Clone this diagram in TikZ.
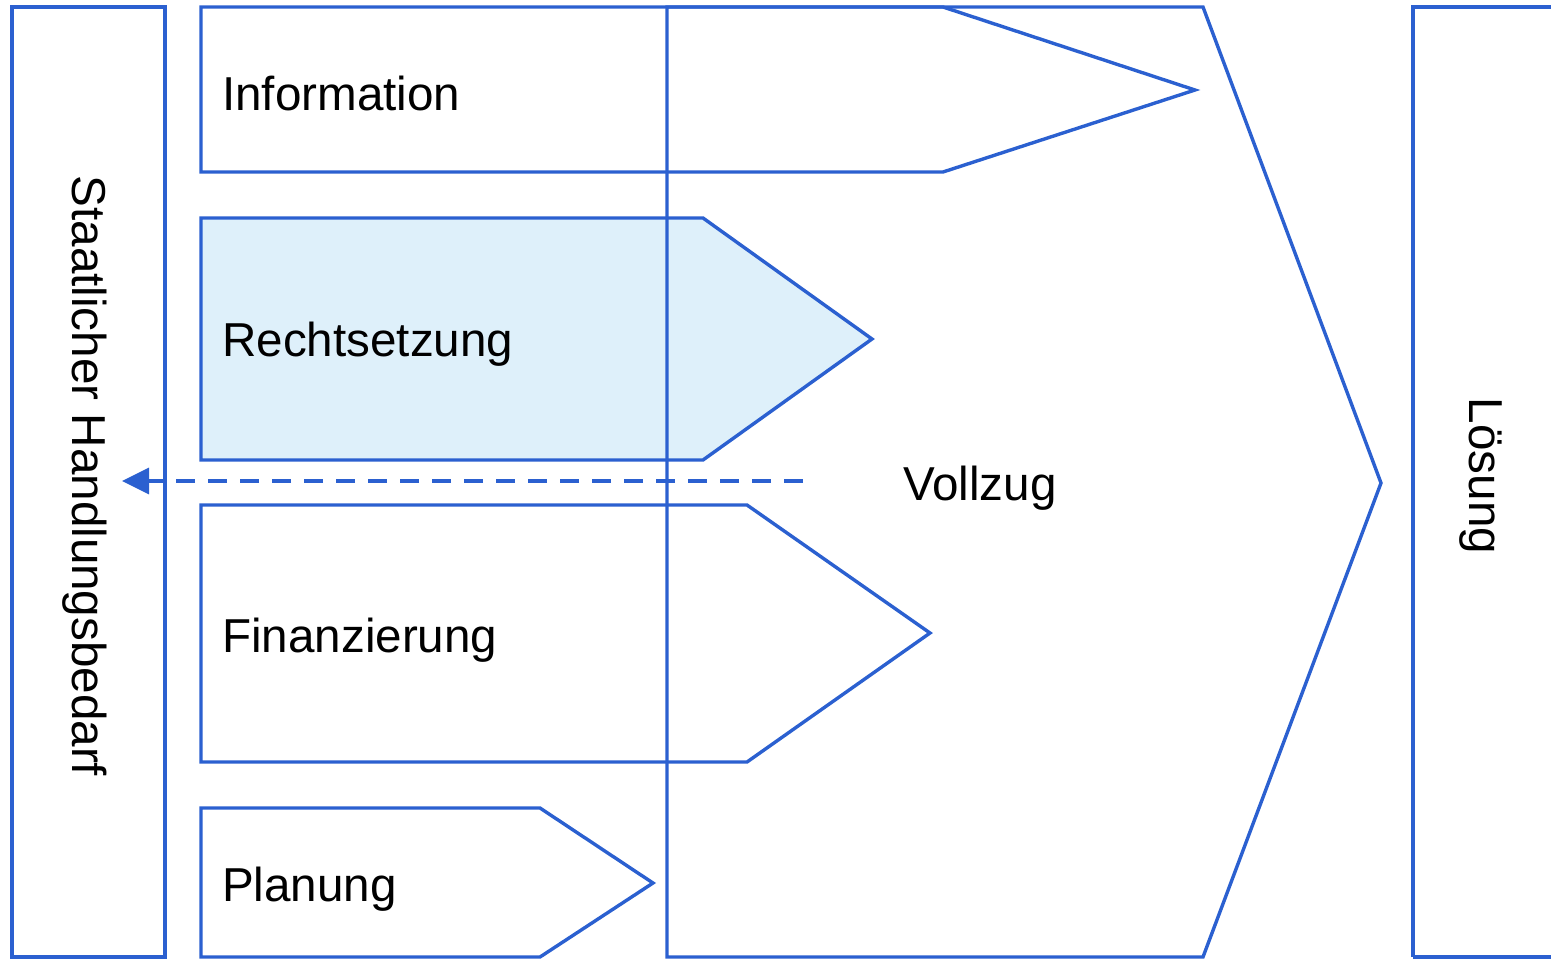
\documentclass[tikz,border=0pt]{standalone}
\usepackage{fontspec}
\setmainfont{Liberation Sans}
\usetikzlibrary{arrows.meta}
\definecolor{lineblue}{RGB}{43,96,208}
\definecolor{fillblue}{RGB}{222,240,250}
\begin{document}
\begin{tikzpicture}[x=1pt,y=-1pt,
  shape line/.style={draw=lineblue,line width=3.4pt,line join=miter},
  lbl/.style={font=\fontsize{47.6}{57}\selectfont,text=black,inner sep=0pt},
  flowarrow/.style={draw=lineblue,line width=3.4pt,dash pattern=on 19pt off 13pt,-{Triangle[length=27pt,width=26pt]}}]
\useasboundingbox (0,0) rectangle (1551,959);
% side bars
\draw[shape line] (12,7) rectangle (165,957);
\draw[shape line] (1413,957) -- (1413,7) -- (1560,7);
\draw[shape line] (1413,957) -- (1560,957);
% Rechtsetzung (filled)
\draw[shape line,fill=fillblue] (201,218) -- (703,218) -- (872,339) -- (703,460) -- (201,460) -- cycle;
% Information
\draw[shape line] (201,7) -- (943,7) -- (1195,90) -- (943,172) -- (201,172) -- cycle;
% Finanzierung
\draw[shape line] (201,505) -- (747,505) -- (930,633) -- (747,762) -- (201,762) -- cycle;
% Planung
\draw[shape line] (201,957) -- (201,808) -- (540,808) -- (653,883) -- (540,957) -- cycle;
% Vollzug
\draw[shape line] (667,957) -- (667,7) -- (1203,7) -- (1381,483) -- (1203,957) -- cycle;
% labels
\node[lbl,anchor=west] (info) at (222,93) {Information};
\node[lbl,anchor=west] (recht) at (222,344) {Rechtsetzung};
\node[lbl,anchor=west] (fin) at (222,640) {Finanzierung};
\node[lbl,anchor=west] (plan) at (222,889) {Planung};
\node[lbl] (vollzug) at (980,488) {Vollzug};
\node[lbl,rotate=-90] (bedarf) at (85,476) {Staatlicher Handlungsbedarf};
\node[lbl,rotate=-90] (loesung) at (1481,476) {Lösung};
% dashed arrow
\coordinate (arrstart) at (803,481);
\coordinate (arrend) at (122,481);
\draw[flowarrow] (arrstart) -- (arrend);
\end{tikzpicture}
\end{document}
